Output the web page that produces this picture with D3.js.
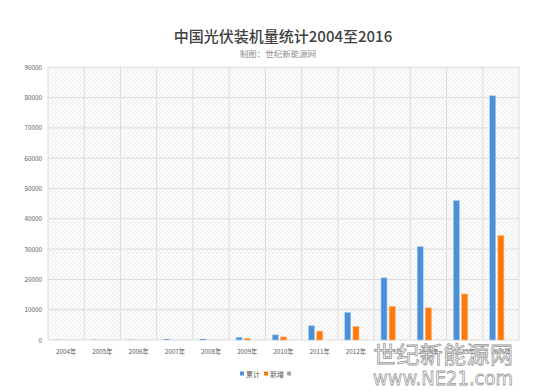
<!DOCTYPE html>
<html>
<head>
<meta charset="utf-8">
<script src="https://cdn.jsdelivr.net/npm/d3@7"></script>
<style>
  body { margin: 0; background: #fff; }
  svg { display: block; }
</style>
</head>
<body>
<div class="chart"></div>
<script>
// data
const years = ['2004年', '2005年', '2006年', '2007年', '2008年', '2009年', '2010年',
               '2011年', '2012年', '2013年', '2014年', '2015年', '2016年'];
const cumulative = [60, 70, 80, 250, 300, 900, 1700, 4700, 9100, 20500, 30800, 46000, 80600];
const added = [10, 5, 10, 20, 50, 500, 1000, 2900, 4400, 11100, 10600, 15200, 34400];
const seriesNames = ['累计', '新增', ''];
const seriesColors = ['#4a90d9', '#ff7a0a', '#a5a5a5'];
const yTicks = [0, 10000, 20000, 30000, 40000, 50000, 60000, 70000, 80000, 90000];

const W = 538, H = 391;
const plotL = 48, plotR = 519, plotT = 67.3, plotB = 340;
const font = '"Noto Sans CJK SC", "Noto Sans", sans-serif';

const svg = d3.select('.chart').append('svg')
    .attr('width', W)
    .attr('height', H);

// hatch pattern for the plot area
const defs = svg.append('defs');
const pat = defs.append('pattern')
    .attr('id', 'hatch')
    .attr('patternUnits', 'userSpaceOnUse')
    .attr('width', 4)
    .attr('height', 4);
pat.append('rect').attr('width', 4).attr('height', 4).attr('fill', '#fcfcfc');
pat.append('path')
    .attr('d', 'M-1,3 l2,2 M0,0 l4,4 M3,-1 l2,2')
    .attr('stroke', '#e7e7e7')
    .attr('stroke-width', 0.8);

// title
svg.append('text')
    .text('中国光伏装机量统计2004至2016')
    .attr('x', 283).attr('y', 42)
    .attr('text-anchor', 'middle')
    .attr('font-family', font)
    .attr('font-size', 15)
    .attr('font-weight', 500)
    .attr('fill', '#404040');

svg.append('text')
    .text('制图：世纪新能源网')
    .attr('x', 278).attr('y', 57)
    .attr('text-anchor', 'middle')
    .attr('font-family', font)
    .attr('font-size', 8.5)
    .attr('fill', '#8c8c8c');

// scales
const x0 = d3.scaleBand().domain(years).range([plotL, plotR]).padding(0);
const cw = x0.bandwidth();
const x1 = d3.scaleBand().domain([0, 1, 2])
    .range([cw / 2 - 11.2, cw / 2 + 11.2])
    .paddingInner(0.27);
const y = d3.scaleLinear().domain([0, 90000]).range([plotB, plotT]);

// plot background
svg.append('rect')
    .attr('x', plotL).attr('y', plotT)
    .attr('width', plotR - plotL).attr('height', plotB - plotT)
    .attr('fill', 'url(#hatch)');

// gridlines
svg.append('g')
    .selectAll('line')
    .data(yTicks)
    .join('line')
    .attr('x1', plotL).attr('x2', plotR)
    .attr('y1', d => y(d)).attr('y2', d => y(d))
    .attr('stroke', '#dcdcdc')
    .attr('stroke-width', 1);

svg.append('g')
    .selectAll('line')
    .data(years.concat(['end']))
    .join('line')
    .attr('x1', d => d === 'end' ? plotR : x0(d))
    .attr('x2', d => d === 'end' ? plotR : x0(d))
    .attr('y1', plotT).attr('y2', plotB)
    .attr('stroke', '#dcdcdc')
    .attr('stroke-width', 1);

// y axis labels
const yAxis = svg.append('g')
    .attr('transform', `translate(${plotL - 6},0)`)
    .call(d3.axisLeft(y).tickValues(yTicks).tickSize(0).tickPadding(0).tickFormat(d3.format('d')));
yAxis.select('.domain').remove();
yAxis.selectAll('text')
    .attr('font-family', font)
    .attr('font-size', 6.3)
    .attr('fill', '#595959');

// x axis labels
const xAxis = svg.append('g')
    .attr('transform', `translate(0,${plotB})`)
    .call(d3.axisBottom(x0).tickSize(0).tickPadding(10));
xAxis.select('.domain').remove();
xAxis.selectAll('text')
    .attr('font-family', font)
    .attr('font-size', 6.3)
    .attr('fill', '#595959');

// bars
const rows = years.map((yr, i) => ({ year: yr, vals: [cumulative[i], added[i]] }));
const groups = svg.append('g')
    .selectAll('g')
    .data(rows)
    .join('g')
    .attr('transform', d => `translate(${x0(d.year)},0)`);

groups.selectAll('rect')
    .data(d => d.vals.map((v, k) => ({ k, v })))
    .join('rect')
    .attr('x', d => x1(d.k))
    .attr('y', d => y(d.v))
    .attr('width', x1.bandwidth())
    .attr('height', d => plotB - y(d.v))
    .attr('fill', d => seriesColors[d.k])
    .attr('stroke', d => plotB - y(d.v) < 2 ? 'none' : (d.k === 0 ? '#a9cbee' : '#ffb070'))
    .attr('stroke-width', 0.6);

// legend
const legendX = [240, 264, 287];
const legend = svg.append('g');
seriesNames.forEach((name, k) => {
    legend.append('rect')
        .attr('x', legendX[k]).attr('y', 371.5)
        .attr('width', 4).attr('height', 4)
        .attr('fill', seriesColors[k]);
    legend.append('text')
        .text(name)
        .attr('x', legendX[k] + 6).attr('y', 376.5)
        .attr('font-family', font)
        .attr('font-size', 7)
        .attr('fill', '#595959');
});

// watermark
svg.append('text')
    .text('世纪新能源网')
    .attr('x', 443).attr('y', 363)
    .attr('text-anchor', 'middle')
    .attr('font-family', font)
    .attr('font-size', 23)
    .attr('textLength', 140)
    .attr('fill', '#ffffff')
    .attr('fill-opacity', 0.85)
    .attr('stroke', '#9a9a9a')
    .attr('stroke-width', 0.8);

svg.append('text')
    .text('www.NE21.com')
    .attr('x', 443).attr('y', 385)
    .attr('text-anchor', 'middle')
    .attr('font-family', '"DejaVu Sans", sans-serif')
    .attr('font-size', 20)
    .attr('textLength', 140)
    .attr('lengthAdjust', 'spacingAndGlyphs')
    .attr('fill', '#ffffff')
    .attr('fill-opacity', 0.85)
    .attr('stroke', '#9a9a9a')
    .attr('stroke-width', 0.8);
</script>
</body>
</html>
